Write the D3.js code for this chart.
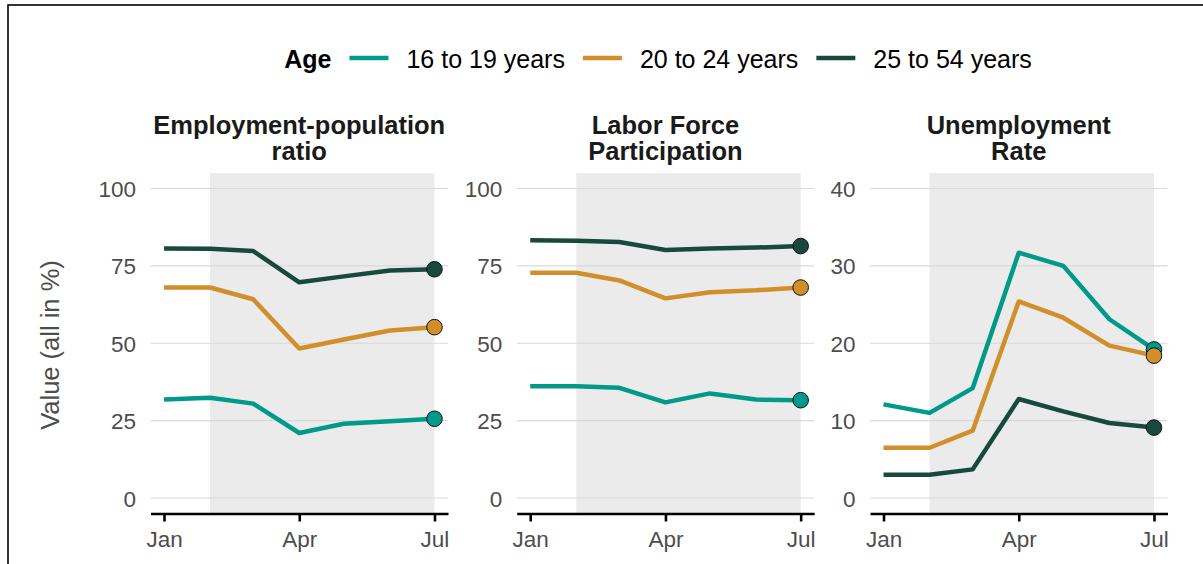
<!DOCTYPE html>
<html>
<head>
<meta charset="utf-8">
<script src="https://cdn.jsdelivr.net/npm/d3@7"></script>
<style>
  body { margin: 0; background: #fff; }
  svg { display: block; font-family: "Liberation Sans", Arial, sans-serif; }
</style>
</head>
<body>
<svg id="chart" width="1203" height="564"></svg>
<script>
// months of 2020 (first of each month)
const months = ["2020-01-01","2020-02-01","2020-03-01","2020-04-01","2020-05-01","2020-06-01","2020-07-01"];
const ageGroups = ["16 to 19 years", "20 to 24 years", "25 to 54 years"];
const ageColors = ["#00998A", "#D18F2B", "#174A3C"];

// Employment-population ratio
const empPop16to19 = [31.8, 32.4, 30.5, 21.0, 24.0, 24.8, 25.6];
const empPop20to24 = [68.0, 68.0, 64.2, 48.3, 51.2, 54.1, 55.2];
const empPop25to54 = [80.6, 80.5, 79.8, 69.7, 71.6, 73.5, 73.9];

// Labor force participation
const lfp16to19 = [36.1, 36.1, 35.6, 30.9, 33.8, 31.8, 31.6];
const lfp20to24 = [72.8, 72.8, 70.3, 64.5, 66.5, 67.1, 68.0];
const lfp25to54 = [83.3, 83.1, 82.7, 80.1, 80.6, 80.9, 81.4];

// Unemployment rate
const unemp16to19 = [12.1, 11.0, 14.2, 31.7, 30.0, 23.1, 19.2];
const unemp20to24 = [6.5, 6.5, 8.7, 25.4, 23.3, 19.7, 18.4];
const unemp25to54 = [3.0, 3.0, 3.7, 12.8, 11.2, 9.7, 9.1];

const panelTitles = [["Employment-population", "ratio"], ["Labor Force", "Participation"], ["Unemployment", "Rate"]];
const yTicksPct = [0, 25, 50, 75, 100];
const yTicksRate = [0, 10, 20, 30, 40];
const xTickDates = ["2020-01-01", "2020-04-01", "2020-07-01"];
const xTickLabels = ["Jan", "Apr", "Jul"];
const shadeStart = "2020-02-01", shadeEnd = "2020-07-01";

const panels = [
  {title: panelTitles[0], series: [empPop16to19, empPop20to24, empPop25to54], ticks: yTicksPct},
  {title: panelTitles[1], series: [lfp16to19, lfp20to24, lfp25to54], ticks: yTicksPct},
  {title: panelTitles[2], series: [unemp16to19, unemp20to24, unemp25to54], ticks: yTicksRate}
];

const parse = d3.utcParse("%Y-%m-%d");
const dates = months.map(parse);

const svg = d3.select("#chart");

// outer frame (only top and left edges visible)
svg.append("rect")
  .attr("x", 8).attr("y", 5)
  .attr("width", 1300).attr("height", 700)
  .attr("fill", "none").attr("stroke", "#000").attr("stroke-width", 1.6);

const panelLefts = [150.5, 516.7, 870];
const panelW = 297.5;
const plotTop = 173, plotBottom = 513.5;

panels.forEach((p, pi) => {
  const left = panelLefts[pi];

  // x scale with ggplot-ish 5% expansion
  const d0 = dates[0], d1 = dates[dates.length - 1];
  const span = d1 - d0;
  const x = d3.scaleUtc()
    .domain([new Date(+d0 - span * 0.05), new Date(+d1 + span * 0.05)])
    .range([left, left + panelW]);

  const yMax = d3.max(p.ticks);
  const y = d3.scaleLinear()
    .domain([-yMax * 0.05, yMax * 1.05])
    .range([plotBottom, plotTop]);

  const g = svg.append("g");

  // shaded period
  g.append("rect")
    .attr("x", x(parse(shadeStart)))
    .attr("y", plotTop)
    .attr("width", x(parse(shadeEnd)) - x(parse(shadeStart)))
    .attr("height", plotBottom - plotTop)
    .attr("fill", "#EBEBEB");

  // gridlines
  g.selectAll(".grid")
    .data(p.ticks)
    .enter().append("line")
      .attr("x1", left).attr("x2", left + panelW)
      .attr("y1", d => y(d)).attr("y2", d => y(d))
      .attr("stroke", "#D9D9D9").attr("stroke-width", 1.1);

  // y axis labels
  const yAxis = d3.axisLeft(y).tickValues(p.ticks).tickSize(0).tickPadding(14.5);
  const ya = g.append("g")
    .attr("transform", `translate(${left},0)`)
    .call(yAxis);
  ya.select(".domain").remove();
  ya.selectAll("text")
    .attr("font-size", 22.5).attr("fill", "#4D4D4D")
    .attr("font-family", "Liberation Sans, Arial, sans-serif")
    .attr("dy", "0.36em");

  // lines
  const line = d3.line()
    .x((d, i) => x(dates[i]))
    .y(d => y(d));

  p.series.forEach((s, si) => {
    g.append("path")
      .datum(s)
      .attr("d", line)
      .attr("fill", "none")
      .attr("stroke", ageColors[si])
      .attr("stroke-width", 4.5)
      .attr("stroke-linejoin", "round");
  });

  // end points
  p.series.forEach((s, si) => {
    g.append("circle")
      .attr("cx", x(dates[dates.length - 1]))
      .attr("cy", y(s[s.length - 1]))
      .attr("r", 7.8)
      .attr("fill", ageColors[si])
      .attr("stroke", "#111")
      .attr("stroke-width", 1);
  });

  // x axis
  const xAxis = d3.axisBottom(x)
    .tickValues(xTickDates.map(parse))
    .tickFormat((d, i) => xTickLabels[i])
    .tickSizeInner(8).tickSizeOuter(0).tickPadding(6);
  const xa = g.append("g")
    .attr("transform", `translate(0,${plotBottom})`)
    .call(xAxis);
  xa.select(".domain").attr("stroke", "#000").attr("stroke-width", 2.6);
  xa.selectAll(".tick line").attr("stroke", "#000").attr("stroke-width", 2.6);
  xa.selectAll("text")
    .attr("font-size", 22.5).attr("fill", "#4D4D4D")
    .attr("font-family", "Liberation Sans, Arial, sans-serif")
    .attr("y", 33).attr("dy", null);

  // panel title
  const cx = left + panelW / 2;
  const t = g.append("text")
    .attr("text-anchor", "middle")
    .attr("font-size", 25.5).attr("font-weight", "bold").attr("fill", "#1a1a1a");
  p.title.forEach((ln, li) => {
    t.append("tspan").attr("x", cx).attr("y", 133.5 + li * 26).text(ln);
  });
});

// y axis title
svg.append("text")
  .attr("transform", `translate(58.5,345) rotate(-90)`)
  .attr("text-anchor", "middle")
  .attr("font-size", 25.5).attr("fill", "#4D4D4D")
  .text("Value (all in %)");

// legend
const legend = svg.append("g");
const gap = 18, keyLen = 39;
let lx = 0;
const ltitle = legend.append("text")
  .attr("x", lx).attr("y", 67.5)
  .attr("font-size", 25).attr("font-weight", "bold").attr("fill", "#000")
  .text("Age");
lx += ltitle.node().getComputedTextLength() + gap;
ageGroups.forEach((a, i) => {
  legend.append("line")
    .attr("x1", lx).attr("x2", lx + keyLen)
    .attr("y1", 58).attr("y2", 58)
    .attr("stroke", ageColors[i]).attr("stroke-width", 4.5);
  lx += keyLen + gap;
  const tx = legend.append("text")
    .attr("x", lx).attr("y", 67.5)
    .attr("font-size", 25).attr("fill", "#000")
    .text(a);
  lx += tx.node().getComputedTextLength() + (i < ageGroups.length - 1 ? gap : 0);
});
legend.attr("transform", `translate(${658 - lx / 2},0)`);
</script>
</body>
</html>
